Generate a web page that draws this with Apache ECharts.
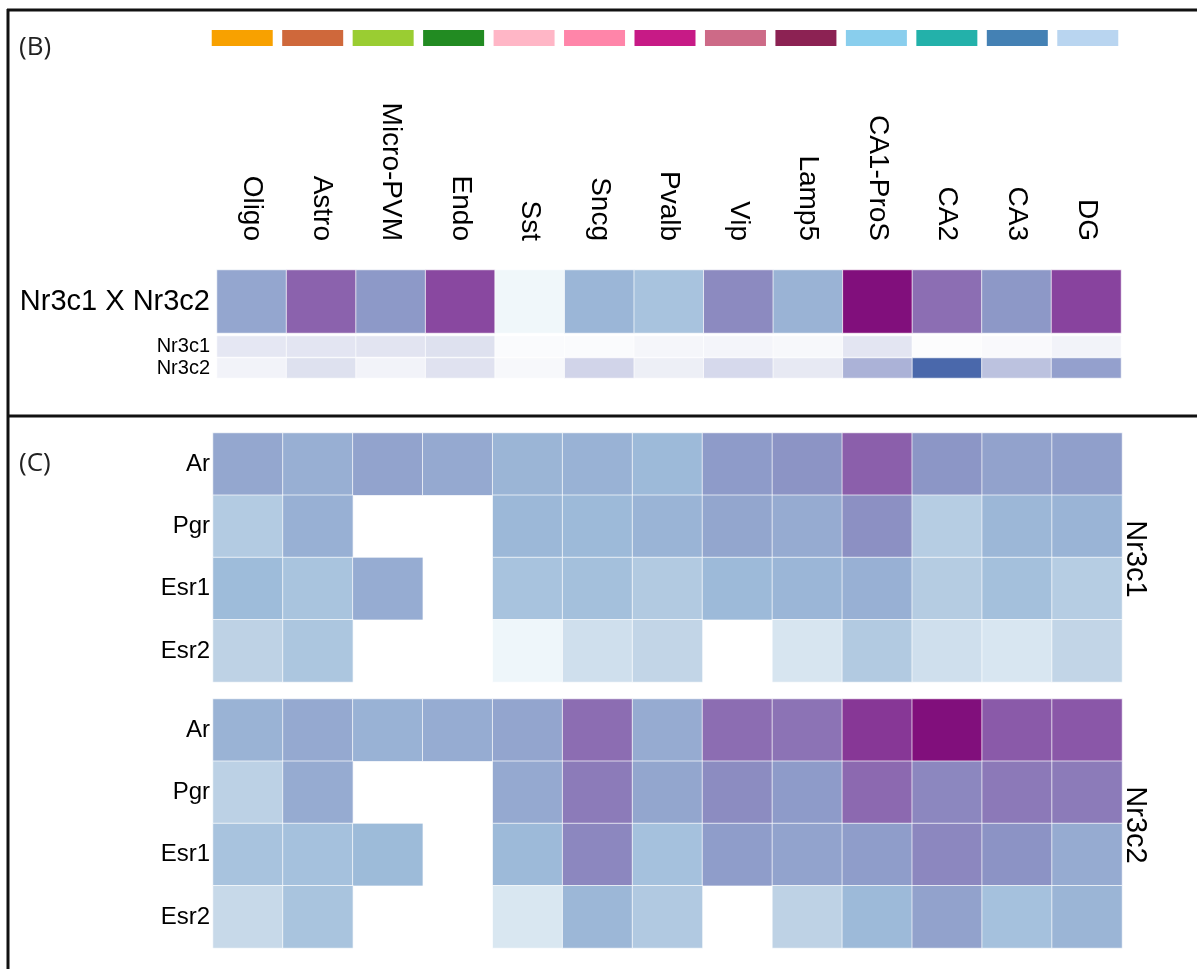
<!DOCTYPE html>
<html>
<head>
<meta charset="utf-8">
<script src="https://cdn.jsdelivr.net/npm/echarts@6/dist/echarts.min.js"></script>
<style>
  html, body { margin: 0; padding: 0; background: #fff; }
  #main { width: 1197px; height: 969px; }
</style>
</head>
<body>
<div id="main"></div>
<script>
// cell types (columns) and their colour key
var cellTypes = ['Oligo', 'Astro', 'Micro-PVM', 'Endo', 'Sst', 'Sncg', 'Pvalb', 'Vip', 'Lamp5', 'CA1-ProS', 'CA2', 'CA3', 'DG'];
var typeColors = ['#f8a100', '#cf683b', '#9acd32', '#228b22', '#ffb6c6', '#ff85a9', '#c71a86', '#cd6a87', '#8c2253', '#89ceed', '#23b1aa', '#4481b4', '#b9d5f0'];

// panel B
var bRows = ['Nr3c1 X Nr3c2'];
var nr3c1xNr3c2 = [0.51, 0.745, 0.56, 0.835, 0.045, 0.45, 0.386, 0.61, 0.463, 1.0, 0.704, 0.565, 0.85];
var nr3c1Expr = [0.16, 0.17, 0.18, 0.2, 0.03, 0.03, 0.06, 0.07, 0.05, 0.17, 0.02, 0.04, 0.08];
var nr3c2Expr = [0.08, 0.2, 0.08, 0.19, 0.05, 0.28, 0.11, 0.25, 0.15, 0.5, 1.0, 0.4, 0.63];

// panel C, rows of hormone receptors (null = no value)
var cRows = ['Ar', 'Pgr', 'Esr1', 'Esr2'];
var c1_Ar   = [0.508, 0.478, 0.523, 0.50, 0.455, 0.467, 0.436, 0.553, 0.578, 0.755, 0.571, 0.527, 0.538];
var c1_Pgr  = [0.336, 0.474, null, null, 0.444, 0.436, 0.459, 0.512, 0.493, 0.591, 0.323, 0.448, 0.459];
var c1_Esr1 = [0.429, 0.379, 0.489, null, 0.386, 0.404, 0.342, 0.436, 0.452, 0.474, 0.33, 0.404, 0.323];
var c1_Esr2 = [0.292, 0.367, null, null, 0.054, 0.217, 0.274, null, 0.183, 0.342, 0.217, 0.177, 0.274];
var c2_Ar   = [0.463, 0.50, 0.467, 0.489, 0.516, 0.707, 0.493, 0.707, 0.687, 0.886, 1.0, 0.772, 0.782];
var c2_Pgr  = [0.298, 0.493, null, null, 0.50, 0.661, 0.512, 0.604, 0.553, 0.72, 0.621, 0.667, 0.661];
var c2_Esr1 = [0.386, 0.398, 0.433, null, 0.436, 0.621, 0.398, 0.546, 0.523, 0.546, 0.621, 0.581, 0.493];
var c2_Esr2 = [0.252, 0.379, null, null, 0.172, 0.448, 0.348, null, 0.292, 0.436, 0.527, 0.398, 0.455];

var buPu = ['#f7fcfd', '#e0ecf4', '#bfd3e6', '#9ebcda', '#8c96c6', '#8c6bb1', '#88419d', '#810f7c'];
var lavBlue = ['#ffffff', '#e4e6f2', '#c8cce5', '#abb2d7', '#8d9bca', '#6c82bb', '#4a68ab'];

function toCells(rows) {
    var out = [];
    rows.forEach(function (vals, r) {
        vals.forEach(function (v, c) {
            if (v !== null) out.push([c, r, v]);
        });
    });
    return out;
}

var font = 'Liberation Sans, Arial, sans-serif';
var cellStyle = { borderColor: 'rgba(255,255,255,0.7)', borderWidth: 1 };

function xCat(gi, show) {
    return {
        type: 'category', gridIndex: gi, data: cellTypes, position: 'top',
        axisLine: { show: false }, axisTick: { show: false }, splitLine: { show: false },
        axisLabel: show ? { show: true, rotate: 90, fontSize: 28, margin: 29, color: '#000', fontFamily: font } : { show: false }
    };
}
function yCat(gi, data, size, margin) {
    return {
        type: 'category', gridIndex: gi, data: data, inverse: true,
        axisLine: { show: false }, axisTick: { show: false }, splitLine: { show: false },
        axisLabel: { fontSize: size, margin: margin, color: '#000', fontFamily: font }
    };
}

var myChart = echarts.init(document.getElementById('main'));
var option = {
    animation: false,
    grid: [
        { left: 217, top: 270, width: 904, height: 63 },   // big row
        { left: 217, top: 336, width: 904, height: 21 },   // Nr3c1
        { left: 217, top: 358, width: 904, height: 20 },   // Nr3c2
        { left: 213, top: 433, width: 909, height: 249 },  // C Nr3c1
        { left: 213, top: 699, width: 909, height: 249 },  // C Nr3c2
        { left: 207, top: 30, width: 916, height: 16 }     // colour key
    ],
    xAxis: [xCat(0, true), xCat(1, false), xCat(2, false), xCat(3, false), xCat(4, false),
        { type: 'category', gridIndex: 5, data: cellTypes, show: false }],
    yAxis: [
        yCat(0, bRows, 29, 7),
        yCat(1, ['Nr3c1'], 20, 7),
        yCat(2, ['Nr3c2'], 20, 7),
        yCat(3, cRows, 24, 3),
        yCat(4, cRows, 24, 3),
        { type: 'value', gridIndex: 5, min: 0, max: 1, show: false }
    ],
    visualMap: [
        { show: false, seriesIndex: [0, 3, 4], min: 0, max: 1, dimension: 2, inRange: { color: buPu } },
        { show: false, seriesIndex: [1, 2], min: 0, max: 1, dimension: 2, inRange: { color: lavBlue } }
    ],
    series: [
        { type: 'heatmap', xAxisIndex: 0, yAxisIndex: 0, data: toCells([nr3c1xNr3c2]), itemStyle: cellStyle },
        { type: 'heatmap', xAxisIndex: 1, yAxisIndex: 1, data: toCells([nr3c1Expr]), itemStyle: cellStyle },
        { type: 'heatmap', xAxisIndex: 2, yAxisIndex: 2, data: toCells([nr3c2Expr]), itemStyle: cellStyle },
        { type: 'heatmap', xAxisIndex: 3, yAxisIndex: 3, data: toCells([c1_Ar, c1_Pgr, c1_Esr1, c1_Esr2]), itemStyle: cellStyle },
        { type: 'heatmap', xAxisIndex: 4, yAxisIndex: 4, data: toCells([c2_Ar, c2_Pgr, c2_Esr1, c2_Esr2]), itemStyle: cellStyle },
        {
            type: 'bar', xAxisIndex: 5, yAxisIndex: 5, barWidth: 61,
            data: typeColors.map(function (c) { return { value: 1, itemStyle: { color: c } }; })
        }
    ],
    graphic: [
        // frame
        { type: 'line', shape: { x1: 7, y1: 10, x2: 1197, y2: 10 }, style: { stroke: '#111', lineWidth: 3 } },
        { type: 'line', shape: { x1: 8, y1: 9, x2: 8, y2: 969 }, style: { stroke: '#111', lineWidth: 3 } },
        { type: 'line', shape: { x1: 8, y1: 416, x2: 1197, y2: 416 }, style: { stroke: '#111', lineWidth: 3 } },
        // panel letters
        { type: 'text', left: 19, top: 35, style: { text: '(B)', fontSize: 26, fontFamily: 'Open Sans, sans-serif', fill: '#222' } },
        { type: 'text', left: 19, top: 451, style: { text: '(C)', fontSize: 26, fontFamily: 'Open Sans, sans-serif', fill: '#222' } },
        // right side labels
        { type: 'text', x: 1135, y: 559, rotation: -Math.PI / 2, style: { text: 'Nr3c1', fontSize: 29, fontFamily: font, fill: '#000', align: 'center', verticalAlign: 'middle' } },
        { type: 'text', x: 1135, y: 825, rotation: -Math.PI / 2, style: { text: 'Nr3c2', fontSize: 29, fontFamily: font, fill: '#000', align: 'center', verticalAlign: 'middle' } }
    ]
};
option && myChart.setOption(option);
</script>
</body>
</html>
